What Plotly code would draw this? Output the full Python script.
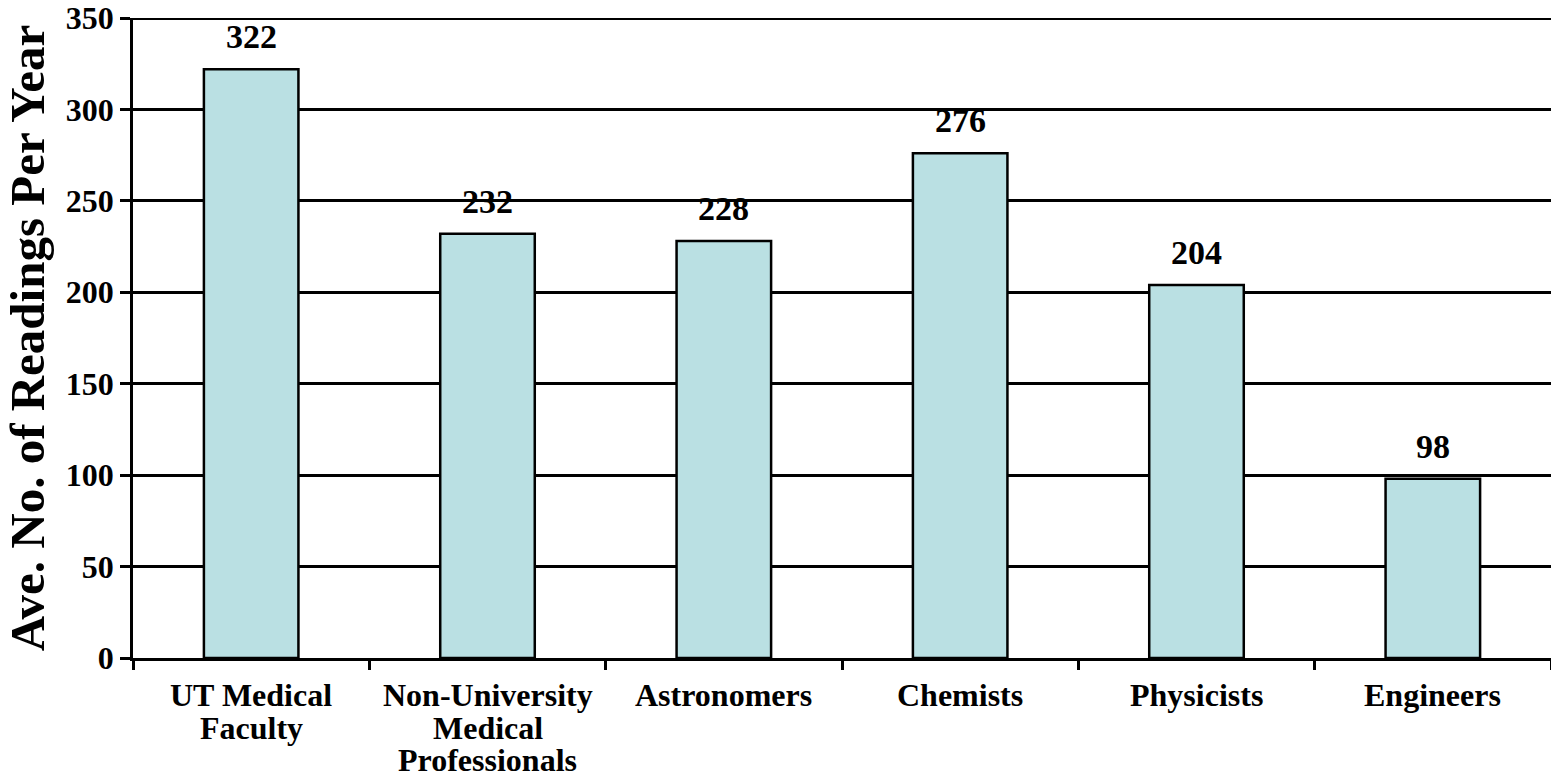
import plotly.graph_objects as go

categories = ["UT Medical Faculty", "Non-University Medical Professionals", "Astronomers",
              "Chemists", "Physicists", "Engineers"]
label_lines = [["UT Medical", "Faculty"], ["Non-University", "Medical", "Professionals"],
               ["Astronomers"], ["Chemists"], ["Physicists"], ["Engineers"]]
values = [322, 232, 228, 276, 204, 98]
y_ticks = [0, 50, 100, 150, 200, 250, 300, 350]

FONT = "Liberation Serif"
fig = go.Figure()
fig.add_trace(go.Bar(
    x=categories, y=values,
    marker=dict(color="#BAE0E3", line=dict(color="black", width=2.5)),
    showlegend=False, hoverinfo="skip",
))

annotations = []
for c, v in zip(categories, values):
    annotations.append(dict(x=c, y=v, xref="x", yref="y", text=f"<b>{v}</b>",
                            showarrow=False, yanchor="bottom", yshift=12,
                            font=dict(family=FONT, size=34, color="black")))
for c, lines in zip(categories, label_lines):
    for i, ln in enumerate(lines):
        annotations.append(dict(x=c, y=0, xref="x", yref="y", text=f"<b>{ln}</b>",
                                showarrow=False, yanchor="top", yshift=-17 - 32.5 * i,
                                font=dict(family=FONT, size=32, color="black")))

fig.update_layout(
    width=1551, height=781,
    margin=dict(l=133, r=0, t=18, b=123),
    paper_bgcolor="white", plot_bgcolor="white",
    bargap=0.6,
    annotations=annotations,
    shapes=[dict(type="line", xref="paper", yref="y", x0=0, x1=1, y0=350, y1=350,
                 line=dict(color="black", width=4))],
    xaxis=dict(showticklabels=False, ticks="outside", tickson="boundaries", ticklen=9,
               tickwidth=2.5, tickcolor="black", showline=True, linecolor="black",
               linewidth=2.5, showgrid=False),
    yaxis=dict(range=[0, 350], tickvals=y_ticks, ticktext=[f"<b>{t}</b>" for t in y_ticks],
               ticks="outside", ticklen=10, tickwidth=2.5, tickcolor="black",
               showline=True, linecolor="black", linewidth=2.5,
               showgrid=True, gridcolor="black", gridwidth=2.5, zeroline=False,
               tickfont=dict(family=FONT, size=32, color="black"),
               title=dict(text="<b>Ave. No. of Readings Per Year</b>", standoff=20,
                          font=dict(family=FONT, size=49, color="black"))),
)
fig.write_html("out.html")
